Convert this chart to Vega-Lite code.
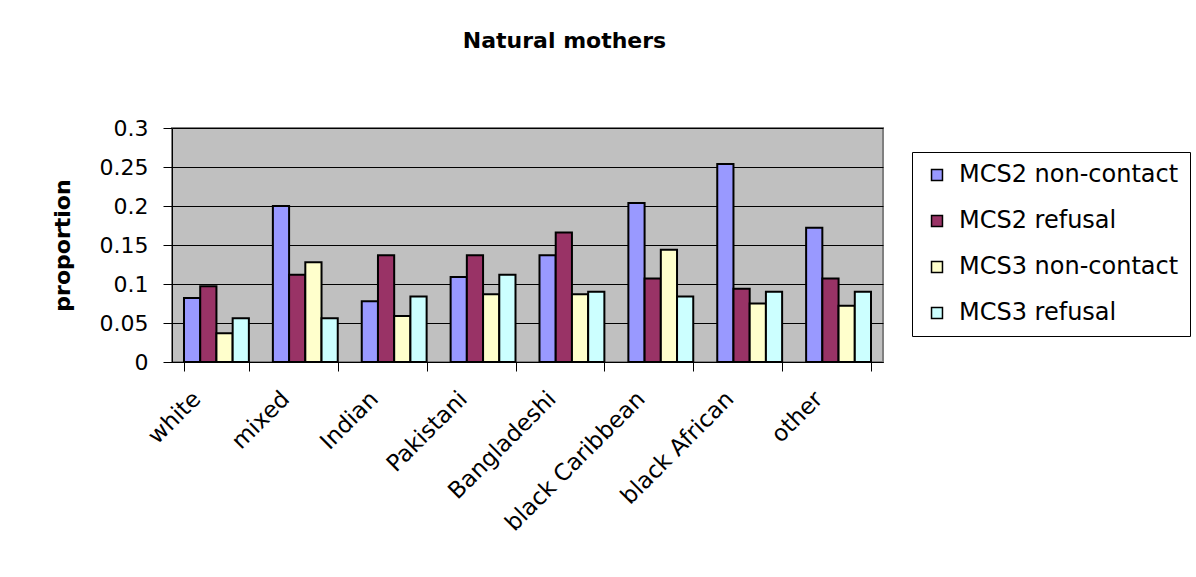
{
  "$schema": "https://vega.github.io/schema/vega-lite/v6.json",
  "width": 711,
  "height": 234,
  "autosize": {"type": "none"},
  "padding": {"left": 172, "top": 128, "right": 313, "bottom": 215},
  "background": "white",
  "title": {
    "text": "Natural mothers",
    "font": "DejaVu Sans",
    "fontSize": 22,
    "fontWeight": "bold",
    "color": "black",
    "anchor": "middle",
    "frame": "group",
    "dx": 37,
    "offset": 64
  },
  "data": {
    "values": [
      {"group": "white", "series": "MCS2 non-contact", "value": 0.082},
      {"group": "white", "series": "MCS2 refusal", "value": 0.097},
      {"group": "white", "series": "MCS3 non-contact", "value": 0.037},
      {"group": "white", "series": "MCS3 refusal", "value": 0.056},
      {"group": "mixed", "series": "MCS2 non-contact", "value": 0.200},
      {"group": "mixed", "series": "MCS2 refusal", "value": 0.112},
      {"group": "mixed", "series": "MCS3 non-contact", "value": 0.128},
      {"group": "mixed", "series": "MCS3 refusal", "value": 0.056},
      {"group": "Indian", "series": "MCS2 non-contact", "value": 0.078},
      {"group": "Indian", "series": "MCS2 refusal", "value": 0.137},
      {"group": "Indian", "series": "MCS3 non-contact", "value": 0.059},
      {"group": "Indian", "series": "MCS3 refusal", "value": 0.084},
      {"group": "Pakistani", "series": "MCS2 non-contact", "value": 0.109},
      {"group": "Pakistani", "series": "MCS2 refusal", "value": 0.137},
      {"group": "Pakistani", "series": "MCS3 non-contact", "value": 0.087},
      {"group": "Pakistani", "series": "MCS3 refusal", "value": 0.112},
      {"group": "Bangladeshi", "series": "MCS2 non-contact", "value": 0.137},
      {"group": "Bangladeshi", "series": "MCS2 refusal", "value": 0.166},
      {"group": "Bangladeshi", "series": "MCS3 non-contact", "value": 0.087},
      {"group": "Bangladeshi", "series": "MCS3 refusal", "value": 0.090},
      {"group": "black Caribbean", "series": "MCS2 non-contact", "value": 0.204},
      {"group": "black Caribbean", "series": "MCS2 refusal", "value": 0.107},
      {"group": "black Caribbean", "series": "MCS3 non-contact", "value": 0.144},
      {"group": "black Caribbean", "series": "MCS3 refusal", "value": 0.084},
      {"group": "black African", "series": "MCS2 non-contact", "value": 0.254},
      {"group": "black African", "series": "MCS2 refusal", "value": 0.094},
      {"group": "black African", "series": "MCS3 non-contact", "value": 0.075},
      {"group": "black African", "series": "MCS3 refusal", "value": 0.090},
      {"group": "other", "series": "MCS2 non-contact", "value": 0.172},
      {"group": "other", "series": "MCS2 refusal", "value": 0.107},
      {"group": "other", "series": "MCS3 non-contact", "value": 0.072},
      {"group": "other", "series": "MCS3 refusal", "value": 0.090}
    ]
  },
  "mark": {"type": "bar", "stroke": "black", "strokeWidth": 2},
  "encoding": {
    "x": {
      "field": "group",
      "type": "nominal",
      "sort": null,
      "scale": {"paddingInner": 0.27, "paddingOuter": 0.135},
      "axis": {
        "title": null,
        "labelAngle": -45,
        "labelAlign": "right",
        "labelBaseline": "middle",
        "labelFont": "DejaVu Sans",
        "labelFontSize": 23,
        "labelColor": "black",
        "labelPadding": 24,
        "labelOffset": -20,
        "tickBand": "extent",
        "tickSize": 9,
        "tickColor": "black",
        "domainColor": "black",
        "labelLimit": 300
      }
    },
    "xOffset": {"field": "series", "type": "nominal", "scale": {"paddingInner": 0, "paddingOuter": 0}},
    "y": {
      "field": "value",
      "type": "quantitative",
      "scale": {"domain": [0, 0.3], "nice": false},
      "axis": {
        "title": "proportion",
        "titleFont": "DejaVu Sans",
        "titleFontSize": 22,
        "titleFontWeight": "bold",
        "titleColor": "black",
        "titlePadding": 25,
        "values": [0, 0.05, 0.1, 0.15, 0.2, 0.25, 0.3],
        "format": "~g",
        "labelFont": "DejaVu Sans",
        "labelFontSize": 22,
        "labelColor": "black",
        "labelPadding": 15,
        "tickSize": 9,
        "tickColor": "black",
        "domainColor": "black",
        "gridColor": "black",
        "gridWidth": 1,
        "grid": true
      }
    },
    "color": {
      "field": "series",
      "type": "nominal",
      "scale": {
        "domain": ["MCS2 non-contact", "MCS2 refusal", "MCS3 non-contact", "MCS3 refusal"],
        "range": ["#9999FF", "#993366", "#FFFFCC", "#CCFFFF"]
      },
      "legend": {
        "title": null,
        "orient": "none",
        "legendX": 740,
        "legendY": 24,
        "strokeColor": "black",
        "fillColor": "white",
        "padding": 11,
        "symbolType": "square",
        "symbolSize": 120,
        "symbolStrokeColor": "black",
        "symbolStrokeWidth": 1.5,
        "labelFont": "DejaVu Sans",
        "labelFontSize": 24,
        "labelColor": "black",
        "labelLimit": 300,
        "labelOffset": 10,
        "rowPadding": 22,
        "symbolOffset": 2
      }
    }
  },
  "config": {
    "view": {"fill": "#C0C0C0", "stroke": "#808080", "strokeWidth": 2},
    "axis": {"gridOpacity": 1}
  }
}
